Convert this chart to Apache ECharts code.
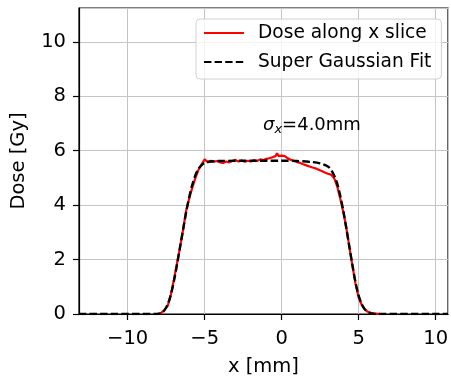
<!DOCTYPE html>
<html>
<head>
<meta charset="utf-8">
<script src="https://cdn.jsdelivr.net/npm/echarts@6/dist/echarts.min.js"></script>
<style>
  html, body { margin: 0; padding: 0; background: #fff; }
  #chart { width: 451px; height: 377px; }
</style>
</head>
<body>
<div id="chart"></div>
<script>
// measured dose profile (x in mm, dose in Gy)
const doseX = [-8.0, -7.8, -7.6, -7.4, -7.2, -7.0, -6.8, -6.6, -6.4, -6.2, -6.0, -5.8, -5.6, -5.4, -5.2, -5.0,
  -4.8, -4.6, -4.4, -4.2, -4.0, -3.8, -3.6, -3.4, -3.2, -3.0, -2.8, -2.6, -2.4, -2.2, -2.0, -1.8, -1.6, -1.4,
  -1.2, -1.0, -0.8, -0.6, -0.4, -0.3, -0.2, -0.1, 0.0, 0.2, 0.4, 0.6, 0.8, 1.0, 1.2, 1.4, 1.6, 1.8, 2.0, 2.2,
  2.4, 2.6, 2.8, 3.0, 3.2, 3.4, 3.6, 3.8, 4.0, 4.2, 4.4, 4.6, 4.8, 5.0, 5.2, 5.4, 5.6, 5.8, 6.0, 6.4];
const doseY = [0.0, 0.05, 0.15, 0.3, 0.7, 1.25, 1.85, 2.45, 3.1, 3.8, 4.25, 4.65, 5.0, 5.3, 5.5, 5.68,
  5.58, 5.63, 5.6, 5.62, 5.57, 5.55, 5.6, 5.57, 5.62, 5.66, 5.6, 5.64, 5.59, 5.63, 5.6, 5.65, 5.62, 5.68,
  5.65, 5.7, 5.72, 5.76, 5.8, 5.9, 5.8, 5.86, 5.82, 5.8, 5.72, 5.66, 5.63, 5.58, 5.55, 5.5, 5.46, 5.42, 5.38, 5.35,
  5.3, 5.25, 5.2, 5.15, 5.12, 5.0, 4.7, 4.25, 3.75, 3.15, 2.45, 1.75, 1.1, 0.6, 0.33, 0.17, 0.08, 0.04, 0.02, 0.0];

// super gaussian fit
const fitX = [-13.16, -8.2, -8.0, -7.8, -7.6, -7.4, -7.2, -7.0, -6.8, -6.6, -6.4, -6.2, -6.0, -5.8, -5.6, -5.4,
  -5.2, -5.0, -4.6, -4.0, -2.0, 0.0, 1.0, 2.0, 2.5, 3.0, 3.2, 3.4, 3.6, 3.8, 4.0, 4.2, 4.4, 4.6, 4.8, 5.0,
  5.2, 5.4, 5.6, 5.8, 6.0, 10.8];
const fitY = [0.0, 0.0, 0.01, 0.04, 0.15, 0.35, 0.7, 1.2, 1.8, 2.45, 3.1, 3.75, 4.3, 4.75, 5.1, 5.33,
  5.47, 5.55, 5.6, 5.62, 5.63, 5.63, 5.62, 5.58, 5.53, 5.42, 5.3, 5.1, 4.8, 4.35, 3.8, 3.15, 2.45, 1.78, 1.15, 0.68,
  0.36, 0.17, 0.07, 0.02, 0.0, 0.0];

const yTicks = [0, 2, 4, 6, 8, 10];

const font = 'DejaVu Sans';
const chart = echarts.init(document.getElementById('chart'), null, { renderer: 'canvas' });

const option = {
  animation: false,
  textStyle: { fontFamily: font },
  grid: {
    left: 79, right: 3, top: 8, bottom: 63,
    outerBoundsMode: 'none',
    containLabel: false,
    show: true, borderColor: '#000', borderWidth: 1.2, backgroundColor: 'transparent'
  },
  title: {
    text: '{s|σ}{sub|x}{n|=4.0mm}',
    left: 263, top: 115,
    padding: 0,
    textStyle: {
      rich: {
        s: { fontFamily: font, fontStyle: 'italic', fontWeight: 'normal', fontSize: 18, color: '#000' },
        sub: { fontFamily: font, fontStyle: 'italic', fontWeight: 'normal', fontSize: 13, color: '#000', padding: [8, 0, 0, 0] },
        n: { fontFamily: font, fontWeight: 'normal', fontSize: 18, color: '#000' }
      }
    }
  },
  legend: {
    orient: 'vertical',
    left: 196, top: 19,
    padding: [4, 10, 7, 7],
    itemGap: 9,
    itemWidth: 40,
    itemHeight: 14,
    itemStyle: { opacity: 0 },
    backgroundColor: 'rgba(255,255,255,0.8)',
    borderColor: '#d0d0d0',
    borderWidth: 1,
    borderRadius: 4,
    textStyle: { fontFamily: font, fontSize: 18.6, color: '#000', lineHeight: 20, padding: [0, 0, 0, 9] },
    data: ['Dose along x slice', 'Super Gaussian Fit']
  },
  xAxis: {
    type: 'value',
    min: -13.16, max: 10.8,
    splitNumber: 5,
    name: 'x [mm]',
    nameLocation: 'middle',
    nameGap: 43,
    nameTextStyle: { fontFamily: font, fontSize: 19.5, color: '#000' },
    axisLine: { show: true, onZero: false, lineStyle: { color: '#000', width: 1.2 } },
    axisTick: { show: true, inside: false, length: 6, lineStyle: { color: '#000', width: 1.2 } },
    axisLabel: {
      showMinLabel: false, showMaxLabel: false,
      fontFamily: font, fontSize: 19.5, color: '#000', margin: 15,
      formatter: v => String(v).replace('-', '\u2212')
    },
    splitLine: { show: true, lineStyle: { color: '#c4c4c4', width: 1 } }
  },
  yAxis: {
    type: 'value',
    min: 0, max: 11.24,
    interval: 2,
    name: 'Dose [Gy]',
    nameLocation: 'middle',
    nameGap: 50,
    nameTextStyle: { fontFamily: font, fontSize: 19.5, color: '#000' },
    axisLine: { show: true, onZero: false, lineStyle: { color: '#000', width: 1.2 } },
    axisTick: { show: true, inside: false, length: 6, lineStyle: { color: '#000', width: 1.2 } },
    axisLabel: {
      showMaxLabel: false,
      fontFamily: font, fontSize: 19.5, color: '#000', margin: 13,
      formatter: v => (yTicks.indexOf(v) >= 0 ? String(v) : '')
    },
    splitLine: { show: true, lineStyle: { color: '#c4c4c4', width: 1 } }
  },
  series: [
    {
      name: 'Dose along x slice',
      type: 'line',
      symbol: 'none',
      smooth: false,
      data: doseX.map((x, i) => [x, doseY[i]]),
      itemStyle: { color: '#ff0000' },
      lineStyle: { color: '#ff0000', width: 2.2 },
      z: 2
    },
    {
      name: 'Super Gaussian Fit',
      type: 'line',
      symbol: 'none',
      smooth: 0.3,
      data: fitX.map((x, i) => [x, fitY[i]]),
      itemStyle: { color: '#000' },
      lineStyle: { color: '#000', width: 2.4, type: [7.4, 3.2] },
      z: 3
    }
  ]
};

chart.setOption(option);
</script>
</body>
</html>
